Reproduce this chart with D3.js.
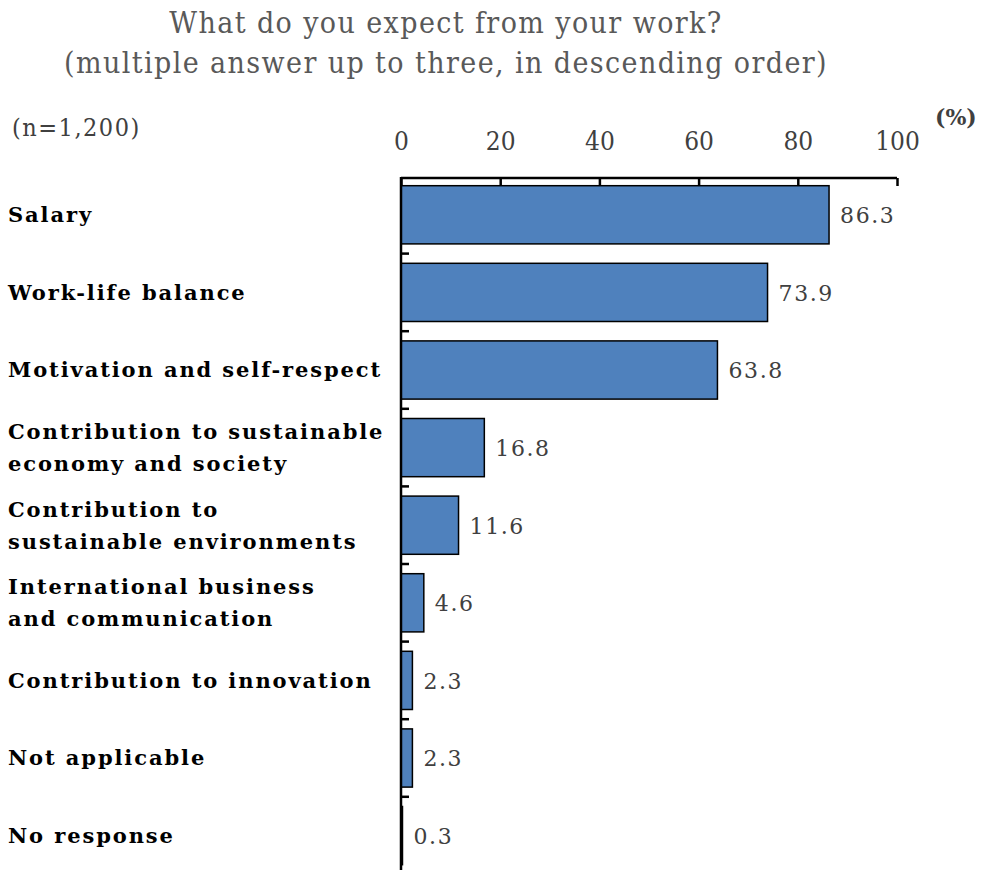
<!DOCTYPE html>
<html>
<head>
<meta charset="utf-8">
<script src="https://cdn.jsdelivr.net/npm/d3@7"></script>
<style>
  body { margin: 0; background: #fff; }
  svg text { font-family: "DejaVu Serif", "Liberation Serif", serif; }
  .cond { font-stretch: condensed; }
</style>
</head>
<body>
<div id="chart"></div>
<script>
'use strict';

const categories = [
  ['Salary'],
  ['Work-life balance'],
  ['Motivation and self-respect'],
  ['Contribution to sustainable', 'economy and society'],
  ['Contribution to', 'sustainable environments'],
  ['International business', 'and communication'],
  ['Contribution to innovation'],
  ['Not applicable'],
  ['No response']
];
const values = [86.3, 73.9, 63.8, 16.8, 11.6, 4.6, 2.3, 2.3, 0.3];
const xTicks = [0, 20, 40, 60, 80, 100];
const titleLines = ['What do you expect from your work?', '(multiple answer up to three, in descending order)'];

const width = 985, height = 870;
const svg = d3.select('#chart').append('svg')
    .attr('width', width)
    .attr('height', height);

// scales
const x = d3.scaleLinear().domain([0, 100]).range([401, 897]);
const y = d3.scaleBand()
    .domain(d3.range(categories.length))
    .range([176, 874.4])
    .paddingInner(0.25)
    .paddingOuter(0.125);

// title
svg.append('g').selectAll('text')
    .data(titleLines)
    .enter().append('text')
    .attr('class', 'cond')
    .attr('x', 446)
    .attr('y', (d, i) => 33 + i * 40)
    .attr('text-anchor', 'middle')
    .attr('fill', '#595959')
    .style('font-size', '30px')
    .style('letter-spacing', '1.4px')
    .text(d => d);

svg.append('text')
    .attr('class', 'cond')
    .attr('x', 12).attr('y', 136)
    .attr('fill', '#404040')
    .style('font-size', '25px')
    .style('letter-spacing', '1.5px')
    .text('(n=1,200)');

svg.append('text')
    .attr('x', 935).attr('y', 125)
    .attr('fill', '#404040')
    .style('font-size', '22px')
    .style('font-weight', 'bold')
    .text('(%)');

// bars
svg.selectAll('.bar')
    .data(values)
    .enter().append('rect')
    .attr('class', 'bar')
    .attr('x', x(0))
    .attr('y', (d, i) => y(i))
    .attr('width', d => x(d) - x(0))
    .attr('height', y.bandwidth())
    .attr('fill', '#4F81BD')
    .attr('stroke', '#000')
    .attr('stroke-width', 1.5);

// value labels
svg.selectAll('.val')
    .data(values)
    .enter().append('text')
    .attr('class', 'val')
    .attr('x', d => x(d) + 11)
    .attr('y', (d, i) => y(i) + y.bandwidth() / 2)
    .attr('dy', '0.38em')
    .attr('fill', '#404040')
    .style('font-size', '22px')
    .style('letter-spacing', '1.6px')
    .text(d => d.toFixed(1));

// top axis
const xAxis = svg.append('g')
    .attr('transform', 'translate(0,178)')
    .call(d3.axisTop(x).tickValues(xTicks).tickSize(-8).tickPadding(28));
xAxis.select('.domain').attr('stroke', '#000').attr('stroke-width', 2.5)
    .attr('d', 'M' + x(0) + ',0H' + x(100));
xAxis.selectAll('.tick line').attr('stroke', '#000').attr('stroke-width', 2.5);
xAxis.selectAll('.tick text')
    .attr('class', 'cond')
    .attr('fill', '#404040')
    .style('font-family', '"DejaVu Serif", serif')
    .style('font-size', '26px');

// left axis with ticks at band boundaries
const bounds = d3.range(1, categories.length).map(i => y(i) - y.step() * y.paddingInner() / 2);
const yAxis = svg.append('g');
yAxis.append('line')
    .attr('x1', x(0)).attr('x2', x(0))
    .attr('y1', 177).attr('y2', height)
    .attr('stroke', '#000').attr('stroke-width', 2.5);
yAxis.selectAll('.btick')
    .data(bounds)
    .enter().append('line')
    .attr('class', 'btick')
    .attr('x1', x(0)).attr('x2', x(0) + 8)
    .attr('y1', d => d).attr('y2', d => d)
    .attr('stroke', '#000').attr('stroke-width', 2.5);

// category labels
const lab = svg.selectAll('.cat')
    .data(categories)
    .enter().append('text')
    .attr('class', 'cat')
    .attr('x', 8)
    .attr('y', (d, i) => y(i) + y.bandwidth() / 2 - (d.length - 1) * 16)
    .attr('fill', '#000')
    .style('font-size', '21px')
    .style('font-weight', 'bold')
    .style('letter-spacing', '1.9px');
lab.selectAll('tspan')
    .data(d => d)
    .enter().append('tspan')
    .attr('x', 8)
    .attr('dy', (d, i) => i === 0 ? '0.35em' : '32px')
    .text(d => d);
</script>
</body>
</html>
